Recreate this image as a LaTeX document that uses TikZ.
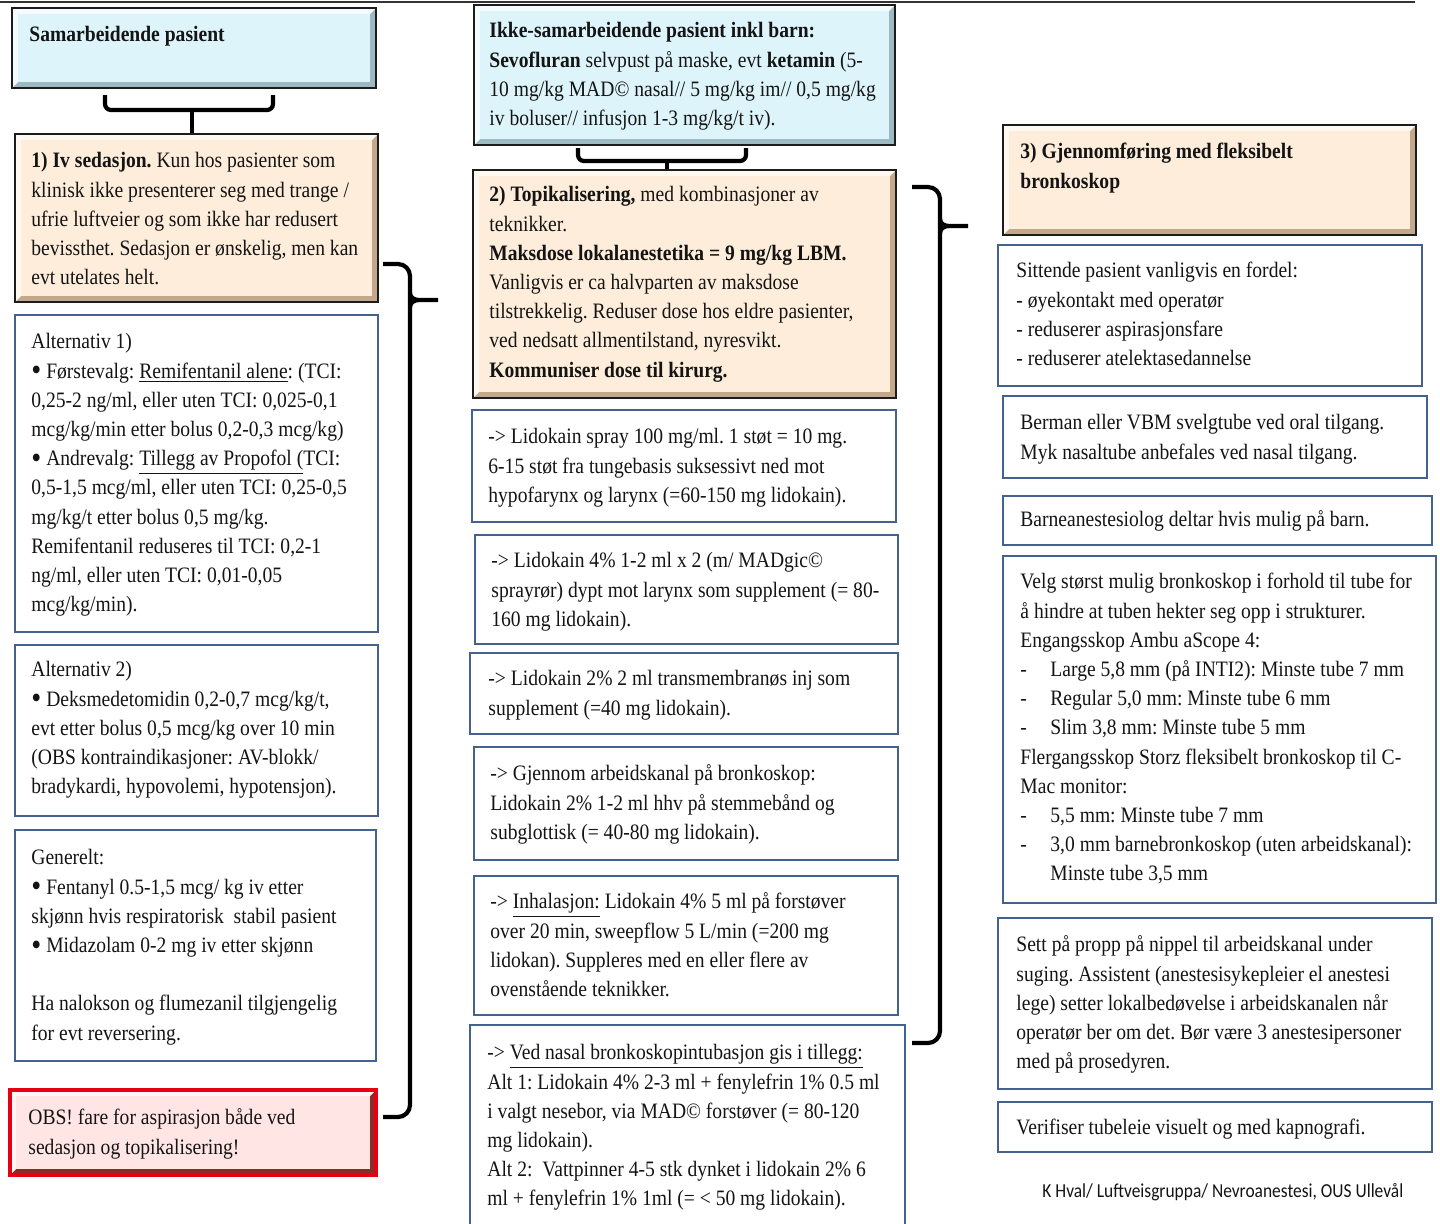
\documentclass[tikz,border=0pt]{standalone}
\usepackage{fontspec}
\setmainfont{Liberation Serif}[FakeStretch=0.89]
\newfontfamily\creditfont{Carlito}[FakeStretch=0.88]
\usetikzlibrary{fit,calc}

\definecolor{blueMain}{HTML}{DDF4FA}
\definecolor{blueLight}{HTML}{F4FCFF}
\definecolor{blueDark}{HTML}{9DB9C2}
\definecolor{peachMain}{HTML}{FDEDDA}
\definecolor{peachLight}{HTML}{FFF9F1}
\definecolor{peachDark}{HTML}{C4A88C}
\definecolor{pinkMain}{HTML}{FFE6E5}
\definecolor{pinkLight}{HTML}{FFF6F6}
\definecolor{pinkDark}{HTML}{8E2A2A}
\definecolor{obsRed}{HTML}{E60012}
\definecolor{frameBlue}{HTML}{44628E}
\definecolor{inkDark}{HTML}{1C1C1C}
\definecolor{textInk}{HTML}{141414}

\newcommand\itm{\makebox[15pt][l]{-}}
\newcommand\bul{{\fontsize{16}{14.6}\selectfont\raisebox{-1.4pt}{•}}}

\tikzset{
  x=0.5pt, y=-0.5pt,
  bevel/.style n args={3}{fill=#3, path picture={
     \fill[#2] (path picture bounding box.north west) -- (path picture bounding box.north east)
       -- ([shift={(-3pt,-3pt)}]path picture bounding box.north east)
       -- ([shift={(3pt,-3pt)}]path picture bounding box.north west)
       -- ([shift={(3pt,3pt)}]path picture bounding box.south west)
       -- (path picture bounding box.south west) -- cycle;
     \fill[#1] ([shift={(3pt,-3pt)}]path picture bounding box.north west)
       rectangle ([shift={(-3pt,3pt)}]path picture bounding box.south east);
  }},
  bluebox/.style={inner sep=0pt, draw=inkDark, line width=1.4pt, bevel={blueMain}{blueLight}{blueDark}},
  peachbox/.style={inner sep=0pt, draw=inkDark, line width=1.4pt, bevel={peachMain}{peachLight}{peachDark}},
  pinkbox/.style={inner sep=0pt, draw=obsRed, line width=2pt, bevel={pinkMain}{pinkLight}{pinkDark}},
  plainbox/.style={inner sep=0pt, draw=frameBlue, line width=1.3pt, fill=white},
  txt/.style={anchor=north west, inner sep=0pt, align=left, text=textInk,
     font=\fontsize{11}{14.6}\selectfont\frenchspacing},
  brk/.style={line width=2.1pt, black, rounded corners=3pt},
  brace/.style={line width=2.1pt, black, rounded corners=6pt},
  bracetip/.style={line width=2.1pt, black},
}

\begin{document}
\begin{tikzpicture}
\useasboundingbox (0,0) rectangle (1440,1223);
\fill[white] (0,0) rectangle (1440,1223);

% top rule
\coordinate (topL) at (0,2);
\coordinate (topR) at (1415,2);
\draw[line width=1.2pt, black!80] (topL) -- (topR);

% ---------------- left column ----------------
\node[bluebox, fit={(12,8) (376,88)}] (A) {};
\node[peachbox, fit={(15,134) (378,302)}] (B) {};
\node[plainbox, fit={(15,315) (378,632)}] (L1) {};
\node[plainbox, fit={(15,645) (378,816)}] (L2) {};
\node[plainbox, fit={(15,830) (376,1061)}] (L3) {};
\node[pinkbox, fit={(10,1090) (376,1175)}] (OBS) {};

\node[txt] (tA) at (29,21) {\strut\textbf{Samarbeidende pasient}};
\node[txt] (tB) at (31,147) {\strut\textbf{1) Iv sedasjon.} Kun hos pasienter som\\
klinisk ikke presenterer seg med trange /\\
ufrie luftveier og som ikke har redusert\\
bevissthet. Sedasjon er ønskelig, men kan\\
evt utelates helt.};
\node[txt] (tL1) at (31,328) {\strut Alternativ 1)\\
\bul\ Førstevalg: \underline{Remifentanil alene}: (TCI:\\
0,25-2 ng/ml, eller uten TCI: 0,025-0,1\\
mcg/kg/min etter bolus 0,2-0,3 mcg/kg)\\
\bul\ Andrevalg: \underline{Tillegg av Propofol (}TCI:\\
0,5-1,5 mcg/ml, eller uten TCI: 0,25-0,5\\
mg/kg/t etter bolus 0,5 mg/kg.\\
Remifentanil reduseres til TCI: 0,2-1\\
ng/ml, eller uten TCI: 0,01-0,05\\
mcg/kg/min).};
\node[txt] (tL2) at (31,656) {\strut Alternativ 2)\\
\bul\ Deksmedetomidin 0,2-0,7 mcg/kg/t,\\
evt etter bolus 0,5 mcg/kg over 10 min\\
(OBS kontraindikasjoner: AV-blokk/\\
bradykardi, hypovolemi, hypotensjon).};
\node[txt] (tL3) at (31,844) {\strut Generelt:\\
\bul\ Fentanyl 0.5-1,5 mcg/ kg iv etter\\
skjønn hvis respiratorisk\ \ stabil pasient\\
\bul\ Midazolam 0-2 mg iv etter skjønn\\[14.6pt]
Ha nalokson og flumezanil tilgjengelig\\
for evt reversering.};
\node[txt] (tOBS) at (28,1104) {\strut OBS! fare for aspirasjon både ved\\
sedasjon og topikalisering!};

% ---------------- middle column ----------------
\node[bluebox, fit={(474,5) (895,145)}] (C) {};
\node[peachbox, fit={(473,170) (896,398)}] (D) {};
\node[plainbox, fit={(472,410) (896,522)}] (M1) {};
\node[plainbox, fit={(475,535) (898,644)}] (M2) {};
\node[plainbox, fit={(470,653) (898,734)}] (M3) {};
\node[plainbox, fit={(474,747) (898,860)}] (M4) {};
\node[plainbox, fit={(474,876) (898,1015)}] (M5) {};
\node[plainbox, fit={(470,1025) (905,1240)}] (M6) {};

\node[txt] (tC) at (489,17) {\strut\textbf{Ikke-samarbeidende pasient inkl barn:}\\
\textbf{Sevofluran} selvpust på maske, evt \textbf{ketamin} (5-\\
10 mg/kg MAD© nasal// 5 mg/kg im// 0,5 mg/kg\\
iv boluser// infusjon 1-3 mg/kg/t iv).};
\node[txt] (tD) at (489,181) {\strut\textbf{2) Topikalisering,} med kombinasjoner av\\
teknikker.\\
\textbf{Maksdose lokalanestetika = 9 mg/kg LBM.}\\
Vanligvis er ca halvparten av maksdose\\
tilstrekkelig. Reduser dose hos eldre pasienter,\\
ved nedsatt allmentilstand, nyresvikt.\\
\textbf{Kommuniser dose til kirurg.}};
\node[txt] (tM1) at (488,423) {\strut -> Lidokain spray 100 mg/ml. 1 støt = 10 mg.\\
6-15 støt fra tungebasis suksessivt ned mot\\
hypofarynx og larynx (=60-150 mg lidokain).};
\node[txt] (tM2) at (491,547) {\strut -> Lidokain 4\% 1-2 ml x 2 (m/ MADgic©\\
sprayrør) dypt mot larynx som supplement (= 80-\\
160 mg lidokain).};
\node[txt] (tM3) at (488,665) {\strut -> Lidokain 2\% 2 ml transmembranøs inj som\\
supplement (=40 mg lidokain).};
\node[txt] (tM4) at (490,760) {\strut -> Gjennom arbeidskanal på bronkoskop:\\
Lidokain 2\% 1-2 ml hhv på stemmebånd og\\
subglottisk (= 40-80 mg lidokain).};
\node[txt] (tM5) at (490,888) {\strut -> \underline{Inhalasjon:} Lidokain 4\% 5 ml på forstøver\\
over 20 min, sweepflow 5 L/min (=200 mg\\
lidokan). Suppleres med en eller flere av\\
ovenstående teknikker.};
\node[txt] (tM6) at (487,1039) {\strut -> \underline{Ved nasal bronkoskopintubasjon gis i tillegg:}\\
Alt 1: Lidokain 4\% 2-3 ml + fenylefrin 1\% 0.5 ml\\
i valgt nesebor, via MAD© forstøver (= 80-120\\
mg lidokain).\\
Alt 2:\ \ Vattpinner 4-5 stk dynket i lidokain 2\% 6\\
ml + fenylefrin 1\% 1ml (= < 50 mg lidokain).};

% ---------------- right column ----------------
\node[peachbox, fit={(1003,125) (1416,235)}] (E) {};
\node[plainbox, fit={(998,245) (1422,386)}] (R1) {};
\node[plainbox, fit={(1003,396) (1427,478)}] (R2) {};
\node[plainbox, fit={(1003,496) (1432,545)}] (R3) {};
\node[plainbox, fit={(1003,556) (1436,903)}] (R4) {};
\node[plainbox, fit={(998,918) (1432,1089)}] (R5) {};
\node[plainbox, fit={(998,1102) (1432,1152)}] (R6) {};

\node[txt] (tE) at (1020,138) {\strut\textbf{3) Gjennomføring med fleksibelt}\\
\textbf{bronkoskop}};
\node[txt] (tR1) at (1016,257) {\strut Sittende pasient vanligvis en fordel:\\
- øyekontakt med operatør\\
- reduserer aspirasjonsfare\\
- reduserer atelektasedannelse};
\node[txt] (tR2) at (1020,409) {\strut Berman eller VBM svelgtube ved oral tilgang.\\
Myk nasaltube anbefales ved nasal tilgang.};
\node[txt] (tR3) at (1020,506) {\strut Barneanestesiolog deltar hvis mulig på barn.};
\node[txt] (tR4) at (1020,568) {\strut Velg størst mulig bronkoskop i forhold til tube for\\
å hindre at tuben hekter seg opp i strukturer.\\
Engangsskop Ambu aScope 4:\\
\itm Large 5,8 mm (på INTI2): Minste tube 7 mm\\
\itm Regular 5,0 mm: Minste tube 6 mm\\
\itm Slim 3,8 mm: Minste tube 5 mm\\
Flergangsskop Storz fleksibelt bronkoskop til C-\\
Mac monitor:\\
\itm 5,5 mm: Minste tube 7 mm\\
\itm 3,0 mm barnebronkoskop (uten arbeidskanal):\\
\hspace*{15pt}Minste tube 3,5 mm};
\node[txt] (tR5) at (1016,931) {\strut Sett på propp på nippel til arbeidskanal under\\
suging. Assistent (anestesisykepleier el anestesi\\
lege) setter lokalbedøvelse i arbeidskanalen når\\
operatør ber om det. Bør være 3 anestesipersoner\\
med på prosedyren.};
\node[txt] (tR6) at (1016,1114) {\strut Verifiser tubeleie visuelt og med kapnografi.};

\node[anchor=base west, inner sep=0pt, text=textInk, font=\creditfont\fontsize{9.9}{12}\selectfont] (credit) at (1042,1197)
  {K Hval/ Luftveisgruppa/ Nevroanestesi, OUS Ullevål};

% ---------------- connectors ----------------
% bracket A -> B
\coordinate (abL) at (105,95);
\coordinate (abR) at (273,95);
\coordinate (abM) at (192,110);
\draw[brk] (abL) |- (abM) -| (abR);
\draw[line width=2.1pt] (abM) -- (abM |- B.north);
% bracket C -> D
\coordinate (cdL) at (578,148);
\coordinate (cdR) at (746,148);
\coordinate (cdM) at (667,161);
\draw[brk] (cdL) |- (cdM) -| (cdR);
\draw[line width=2.1pt] (cdM) -- (cdM |- D.north);

% left brace -> D
\coordinate (lbTop) at (383,264);
\coordinate (lbMid) at (410,300);
\coordinate (lbTip) at (438,300);
\coordinate (lbBot) at (383,1117);
\draw[brace] (lbTop) -| (lbMid) |- (lbBot);
\draw[bracetip] ($(lbMid)+(0,-7)$) to[out=-90,in=180] ($(lbMid)+(9,0)$) -- (lbTip);
\draw[bracetip] ($(lbMid)+(0,7)$) to[out=90,in=180] ($(lbMid)+(9,0)$);

% middle brace -> E
\coordinate (mbTop) at (912,187);
\coordinate (mbMid) at (940,226);
\coordinate (mbTip) at (968,226);
\coordinate (mbBot) at (912,1043);
\draw[brace] (mbTop) -| (mbMid) |- (mbBot);
\draw[bracetip] ($(mbMid)+(0,-7)$) to[out=-90,in=180] ($(mbMid)+(9,0)$) -- (mbTip);
\draw[bracetip] ($(mbMid)+(0,7)$) to[out=90,in=180] ($(mbMid)+(9,0)$);
\end{tikzpicture}
\end{document}
